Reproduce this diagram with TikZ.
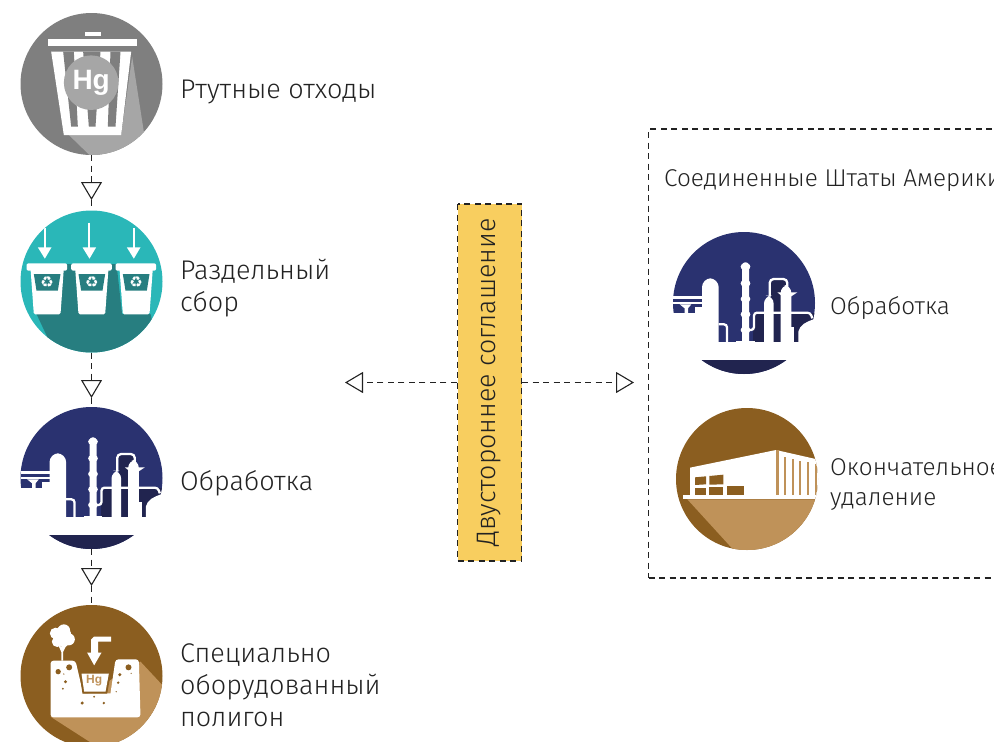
\documentclass[tikz,border=0pt]{standalone}
\usepackage{fontspec}
\setmainfont{Fira Sans Light}[BoldFont={Liberation Sans Bold}]
\newfontfamily\symfont{DejaVu Sans}
\usetikzlibrary{arrows.meta}
\definecolor{inkcol}{HTML}{222222}
\definecolor{yellowcol}{HTML}{F8CE5F}
\definecolor{greycol}{HTML}{7F7F7F}
\definecolor{greylight}{HTML}{A6A6A6}
\definecolor{tealcol}{HTML}{2AB7B8}
\definecolor{tealdark}{HTML}{277E80}
\definecolor{navycol}{HTML}{2A3270}
\definecolor{navydark}{HTML}{21244F}
\definecolor{browncol}{HTML}{8B5E20}
\definecolor{brownlight}{HTML}{BF9259}

\tikzset{
	zoomed/.style 2 args={scale=1/3,shift={(-#1,-#2)}},
	% waste bin with the Hg disc
	binicon/.pic={
		\begin{scope}[zoomed={273}{252}]
			\clip (273,252) circle (213);
			\fill[greylight] (395,170) -- (430,395) .. controls (400,440) and (340,465) .. (270,468) -- (205,405) -- (362,405) -- cycle;
			\fill[white] (252,95) rectangle (300,108);
			\fill[white] (143,118) rectangle (408,138);
			\fill[white] (152,155) -- (392,155) -- (362,405) -- (190,405) -- cycle;
			\fill[greycol] (188,155) -- (220,155) -- (232,380) -- (212,380) -- cycle;
			\fill[greycol] (248,155) -- (300,155) -- (285,380) -- (265,380) -- cycle;
			\fill[greycol] (330,155) -- (360,155) -- (345,380) -- (322,380) -- cycle;
			\node[circle,fill=greylight,minimum size=54.6pt,inner sep=0pt,text=white,font=\fontsize{28}{28}\selectfont\bfseries] (hgdisc) at (272,248) {Hg};
		\end{scope}
	},
	% three bins with arrows above them
	sorticon/.pic={
		\begin{scope}[zoomed={273}{244.5}]
			\clip (273,244.5) circle (213);
			\fill[tealdark] (108,342) -- (140,410) -- (140,470) -- (480,470) -- (450,342) -- cycle;
			\fill[tealdark] (185,192) -- (348,192) -- (365,345) -- (170,345) -- cycle;
			\foreach \i/\offs/\top in {1/0/85,2/134/68,3/267/85} {
				\begin{scope}[shift={(\offs,0)}]
					\draw[white,line width=2pt] (132,\top) -- (132,145);
					\fill[white] (112,142) -- (153,142) -- (133,176) -- cycle;
					\fill[white,rounded corners=2pt] (78,190) rectangle (200,212);
					\fill[white,rounded corners=1.5pt] (90,205) -- (190,205) -- (180,343) -- (100,343) -- cycle;
					\fill[tealdark] (100,222) -- (180,222) -- (172,272) -- (108,272) -- cycle;
					\node[text=white,inner sep=0pt,font=\symfont\fontsize{15}{15}\selectfont] (recycle\i) at (140,248) {♻};
				\end{scope}
			}
		\end{scope}
	},
	% refinery skyline, the white parts stay unclipped
	planticon/.pic={
		\begin{scope}[zoomed={273}{234}]
			\begin{scope}
				\clip (273,234) circle (213);
				\fill[navydark] (300,265) rectangle (490,353);
				\fill[navydark] (355,165) rectangle (400,265);
				\fill[navydark] (0,405) rectangle (500,460);
			\end{scope}
			\fill[white] (40,265) rectangle (125,353);
			\fill[white] (125,245) rectangle (147,353);
			\fill[white] (60,213) rectangle (147,222);
			\fill[white] (60,232) rectangle (147,238);
			\fill[white] (80,238) -- (115,238) -- (105,250) -- (105,265) -- (95,265) -- (95,250) -- cycle;
			\fill[white] (147,353) [rounded corners=9pt] -- (147,160) -- (197,160) [sharp corners] -- (197,353) -- cycle;
			\draw[white,line width=2.3pt,rounded corners=3pt] (197,298) -- (222,298) -- (222,353);
			\fill[white] (267,353) [rounded corners=3pt] -- (267,112) -- (288,112) [sharp corners] -- (288,353) -- cycle;
			\foreach \i in {125,175,222,268,315} {
				\fill[white] (272,\i) circle (9);
				\fill[white] (283,\i) circle (9);
			}
			\fill[white] (250,347) rectangle (305,353);
			\draw[white,line width=2.3pt,rounded corners=3pt] (286,315) -- (303,315) -- (303,263) -- (472,263) -- (478,280);
			\fill[white] (333,353) [rounded corners=8pt] -- (333,212) -- (362,212) [sharp corners] -- (362,353) -- cycle;
			\fill[white] (383,353) [rounded corners=8pt] -- (383,180) -- (415,180) [sharp corners] -- (415,353) -- cycle;
			\fill[white] (373,202) -- (433,202) -- (415,214) -- (388,214) -- cycle;
			\draw[white,line width=2.3pt,rounded corners=4pt] (350,215) -- (350,162) -- (403,162) -- (403,190);
			\fill[white] (436,353) -- (436,320) .. controls (440,300) and (460,290) .. (482,283) -- (500,283) -- (500,353) -- cycle;
			\fill[white] (415,305) rectangle (424,353);
			\fill[white] (40,351) rectangle (500,405);
		\end{scope}
	},
	% pit with tree and falling load
	piticon/.pic={
		\begin{scope}[zoomed={273}{258}]
			\clip (273,258) circle (213);
			\fill[brownlight] (420,215) -- (490,290) -- (490,470) -- (290,470) -- (150,380) -- cycle;
			\fill[white,rounded corners=3pt] (150,382) -- (150,212) -- (225,212) [sharp corners] -- (248,310) -- (330,310) [rounded corners=3pt] -- (345,208) -- (415,208) -- (420,382) -- cycle;
			\fill[browncol] (236,245) -- (332,245) -- (320,311) -- (246,311) -- cycle;
			\fill[white] (243,251) -- (325,251) -- (315,305) -- (251,305) -- cycle;
			\node[text=brownlight,inner sep=0pt,font=\fontsize{12}{12}\selectfont\bfseries] (hgload) at (281,273) {Hg};
			\fill[white] (280,140) -- (332,140) -- (332,155) -- (293,155) -- (293,188) -- (303,188) -- (281,226) -- (260,188) -- (272,188) -- (272,148) -- cycle;
			\foreach \i/\j/\r in {165/130/17,190/122/19,205/148/18,170/155/16,190/158/14,185/138/28} {
				\fill[white] (\i,\j) circle (\r);
			}
			\draw[white,line width=1.8pt] (185,212) -- (185,165) (185,185) -- (176,165) (185,185) -- (195,165);
			\foreach \i/\j/\r in {173/245/8,206/232/9,190/252/2,195/275/5,187/296/3,384/232/9,392/250/2,358/254/5,353/278/4,347/305/2,281/320/3,245/339/5,310/339/4} {
				\fill[browncol] (\i,\j) circle (\r);
			}
		\end{scope}
	},
	% warehouse on a platform
	depoticon/.pic={
		\begin{scope}[zoomed={261}{237}]
			\clip (261,237) circle (213);
			\fill[brownlight] (82,298) -- (218,447) -- (230,470) -- (500,470) -- (500,298) -- cycle;
			\fill[white] (90,203) -- (348,150) -- (480,180) -- (480,285) -- (90,285) -- cycle;
			\fill[white] (70,285) rectangle (480,298);
			\fill[browncol] (105,232) -- (138,229) -- (138,253) -- (105,255) -- cycle;
			\fill[browncol] (148,228) -- (190,224) -- (190,253) -- (148,254) -- cycle;
			\fill[browncol] (105,263) rectangle (138,284);
			\fill[browncol] (148,261) rectangle (190,284);
			\fill[browncol] (200,259) rectangle (252,286);
			\foreach \i/\j/\w in {348/150/8,372/172/6,395/177/6,418/182/6,441/187/6,465/192/6} {
				\fill[brownlight] (\i,\j) rectangle ++(\w,285-\j);
			}
		\end{scope}
	}
}

\begin{document}
\begin{tikzpicture}[x=1pt,y=-1pt,
	    icon/.style={circle,minimum size=142pt,inner sep=0pt,outer sep=0pt},
	    lefttext/.style={anchor=west,align=left,inner sep=0pt,text=inkcol,font=\fontsize{27}{32}\selectfont},
	    righttext/.style={anchor=west,align=left,inner sep=0pt,text=inkcol,font=\fontsize{24.3}{30}\selectfont},
	    link/.style={draw=inkcol,line width=1.1pt,dash pattern=on 6pt off 4.5pt},
	    hollow/.style={-{Triangle[open,length=18pt,width=21pt,fill=white]}}]

	\clip (0,0) rectangle (994,742);

	% left column
	\node[icon,fill=greycol] (waste) at (91.5,84) {};
	\pic at (waste) {binicon};
	\node[icon,fill=tealcol] (sort) at (91.5,281.5) {};
	\pic at (sort) {sorticon};
	\node[icon,fill=navycol] (plant) at (91.5,478) {};
	\pic at (plant) {planticon};
	\node[icon,fill=browncol] (pit) at (91.5,676) {};
	\pic at (pit) {piticon};

	\node[lefttext] (wastetext) at (180,92) {Ртутные отходы};
	\node[lefttext] (sorttext) at (180,288) {Раздельный\\сбор};
	\node[lefttext] (planttext) at (180,483) {Обработка};
	\node[lefttext] (pittext) at (180,685) {Специально\\оборудованный\\полигон};

	\coordinate (tipa) at (91.5,200);
	\coordinate (tipb) at (91.5,398);
	\coordinate (tipc) at (91.5,586);
	\draw[link,hollow] (waste) -- (tipa);
	\draw[link] (tipa) -- (sort);
	\draw[link,hollow] (sort) -- (tipb);
	\draw[link] (tipb) -- (plant);
	\draw[link,hollow] (plant) -- (tipc);
	\draw[link] (tipc) -- (pit);

	% agreement in the middle
	\node[link,fill=yellowcol,rotate=90,minimum width=357pt,minimum height=64pt,inner sep=0pt,text=inkcol,font=\fontsize{26.7}{30}\selectfont] (deal) at (489.5,382.5) {\raisebox{-2pt}{Двустороннее соглашение}};
	\coordinate (tipl) at (345,382.5);
	\coordinate (tipr) at (634,382.5);
	\draw[link,hollow] (deal) -- (tipl);
	\draw[link,hollow] (deal) -- (tipr);

	% right box, runs past the edge
	\node[link,minimum width=362pt,minimum height=449pt,inner sep=0pt] (usa) at (829.5,353.5) {};
	\node[righttext] (usatext) at (664,181) {Соединенные Штаты Америки};
	\node[icon,fill=navycol] (plantusa) at (744,303) {};
	\pic at (plantusa) {planticon};
	\node[righttext] (plantusatext) at (830,308) {Обработка};
	\node[icon,fill=browncol] (depot) at (747,479) {};
	\pic at (depot) {depoticon};
	\node[righttext] (depottext) at (830,485) {Окончательное\\удаление};
\end{tikzpicture}
\end{document}
